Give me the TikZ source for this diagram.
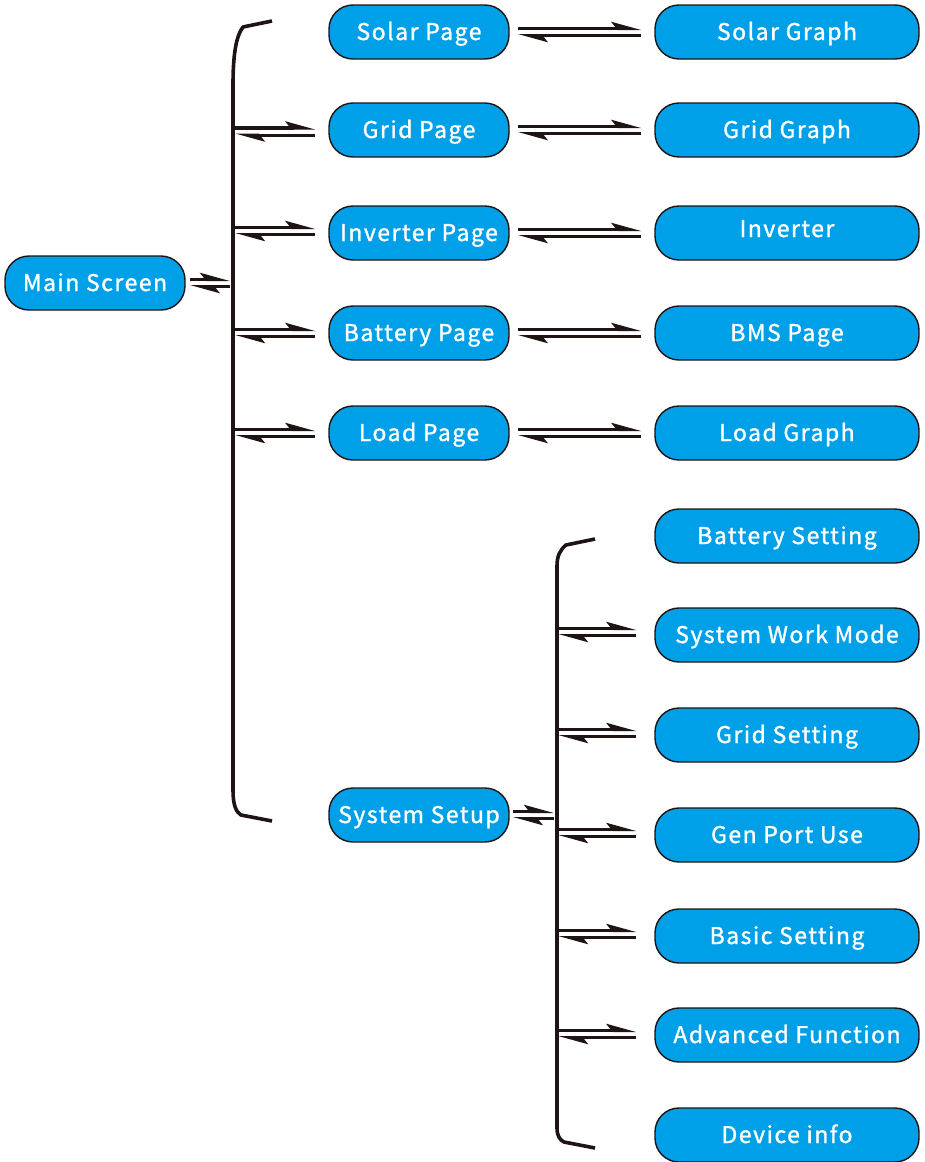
\documentclass[tikz,border=0pt]{standalone}
\usepackage{fontspec}
\setmainfont{Noto Sans CJK SC}[LetterSpace=6.5, FakeBold=1.3]
\usetikzlibrary{arrows.meta}
\definecolor{boxblue}{RGB}{0,160,233}
\definecolor{ink}{RGB}{30,20,20}
\tikzset{
  box/.style={draw=ink, line width=1.4pt, fill=boxblue, rounded corners=24pt,
    minimum height=54pt, inner sep=0pt, text height=18pt, text depth=2pt,
    text=white, font=\fontsize{23}{26}\selectfont},
  lbox/.style={box, minimum width=180pt},
  rbox/.style={box, minimum width=264pt},
  brk/.style={draw=ink, line width=3.6pt},
  hp/.style={draw=ink, line width=3.2pt, -{Stealth[harpoon, length=24pt, width=13pt, inset=5pt]}},
}
\newcommand\harp[4]{% from, to, shorten start, shorten end
  \draw[hp, shorten <=#3, shorten >=#4] ([yshift=3.6pt]#1) -- ([yshift=3.6pt]#2);
  \draw[hp, shorten <=#4, shorten >=#3] ([yshift=-3.6pt]#2) -- ([yshift=-3.6pt]#1);
}
\begin{document}
\begin{tikzpicture}[x=1pt,y=-1pt]
\useasboundingbox (0,0) rectangle (924,1162);
% nodes
\node[box, minimum width=180pt] (ms) at (95,283) {Main Screen};
\node[lbox] (sp) at (419,32) {Solar Page};
\node[lbox] (gp) at (419,130) {Grid Page};
\node[lbox] (ip) at (419,233) {Inverter Page};
\node[lbox] (bp) at (419,333) {Battery Page};
\node[lbox] (lp) at (419,433) {Load Page};
\node[lbox] (ss) at (419,815) {System Setup};
\node[rbox] (sg) at (787,32) {Solar Graph};
\node[rbox] (gg) at (787,130) {Grid Graph};
\node[rbox] (iv) at (787,233) {\raisebox{4pt}{Inverter}};
\node[rbox] (bm) at (787,333) {BMS Page};
\node[rbox] (lg) at (787,433) {Load Graph};
\node[rbox] (bs) at (787,536) {Battery Setting};
\node[rbox] (sw) at (787,635) {System Work Mode};
\node[rbox] (gs) at (787,735) {Grid Setting};
\node[rbox] (gu) at (787,835) {Gen Port Use};
\node[rbox] (ba) at (787,936) {Basic Setting};
\node[rbox] (af) at (787,1035) {Advanced Function};
\node[rbox] (di) at (787,1135) {Device info};
% left bracket
\draw[brk, line join=round] (272,21) -- (243,27) .. controls (236,36) and (233,55) .. (233,85)
  -- (233,790) .. controls (233,805) and (236,812) .. (241,815) -- (272,821);
% inner bracket
\draw[brk, line join=round] (595,539) -- (566,545) .. controls (560,550) and (557,556) .. (557,566)
  -- (557,1128) .. controls (557,1136) and (560,1140) .. (564,1142) -- (595,1148);
% bracket coordinates
\coordinate (Lm) at (230,283);
\foreach \n/\y in {gp/131.5,ip/231,bp/333,lp/433}{\coordinate (L\n) at (235,\y);}
\foreach \n/\y in {sw/632,gs/733,gu/833,ba/934,af/1034}{\coordinate (I\n) at (558,\y);}
\coordinate (Iss) at (554,815);
% main screen to bracket
\harp{ms.east}{Lm}{4pt}{0pt}
% left bracket to pages
\foreach \n in {gp,ip,bp,lp}{
  \draw[hp, shorten >=13pt] ([yshift=3.6pt]L\n) -- ([yshift=3.6pt]L\n -| \n.west);
  \draw[hp, shorten <=13pt] ([yshift=-3.6pt]L\n -| \n.west) -- ([yshift=-3.6pt]L\n);
}
% pages to graphs
\harp{sp.east}{sg.west}{8pt}{13pt}
\harp{gp.east}{gg.west}{8pt}{13pt}
\harp{ip.east}{iv.west}{8pt}{13pt}
\harp{bp.east}{bm.west}{8pt}{13pt}
\harp{lp.east}{lg.west}{8pt}{13pt}
% system setup to inner bracket
\harp{ss.east}{Iss}{3pt}{0pt}
% inner bracket to settings
\foreach \n in {sw,gs,gu,ba,af}{
  \draw[hp, shorten >=18pt] ([yshift=3.6pt]I\n) -- ([yshift=3.6pt]I\n -| \n.west);
  \draw[hp, shorten <=18pt] ([yshift=-3.6pt]I\n -| \n.west) -- ([yshift=-3.6pt]I\n);
}
\end{tikzpicture}
\end{document}
